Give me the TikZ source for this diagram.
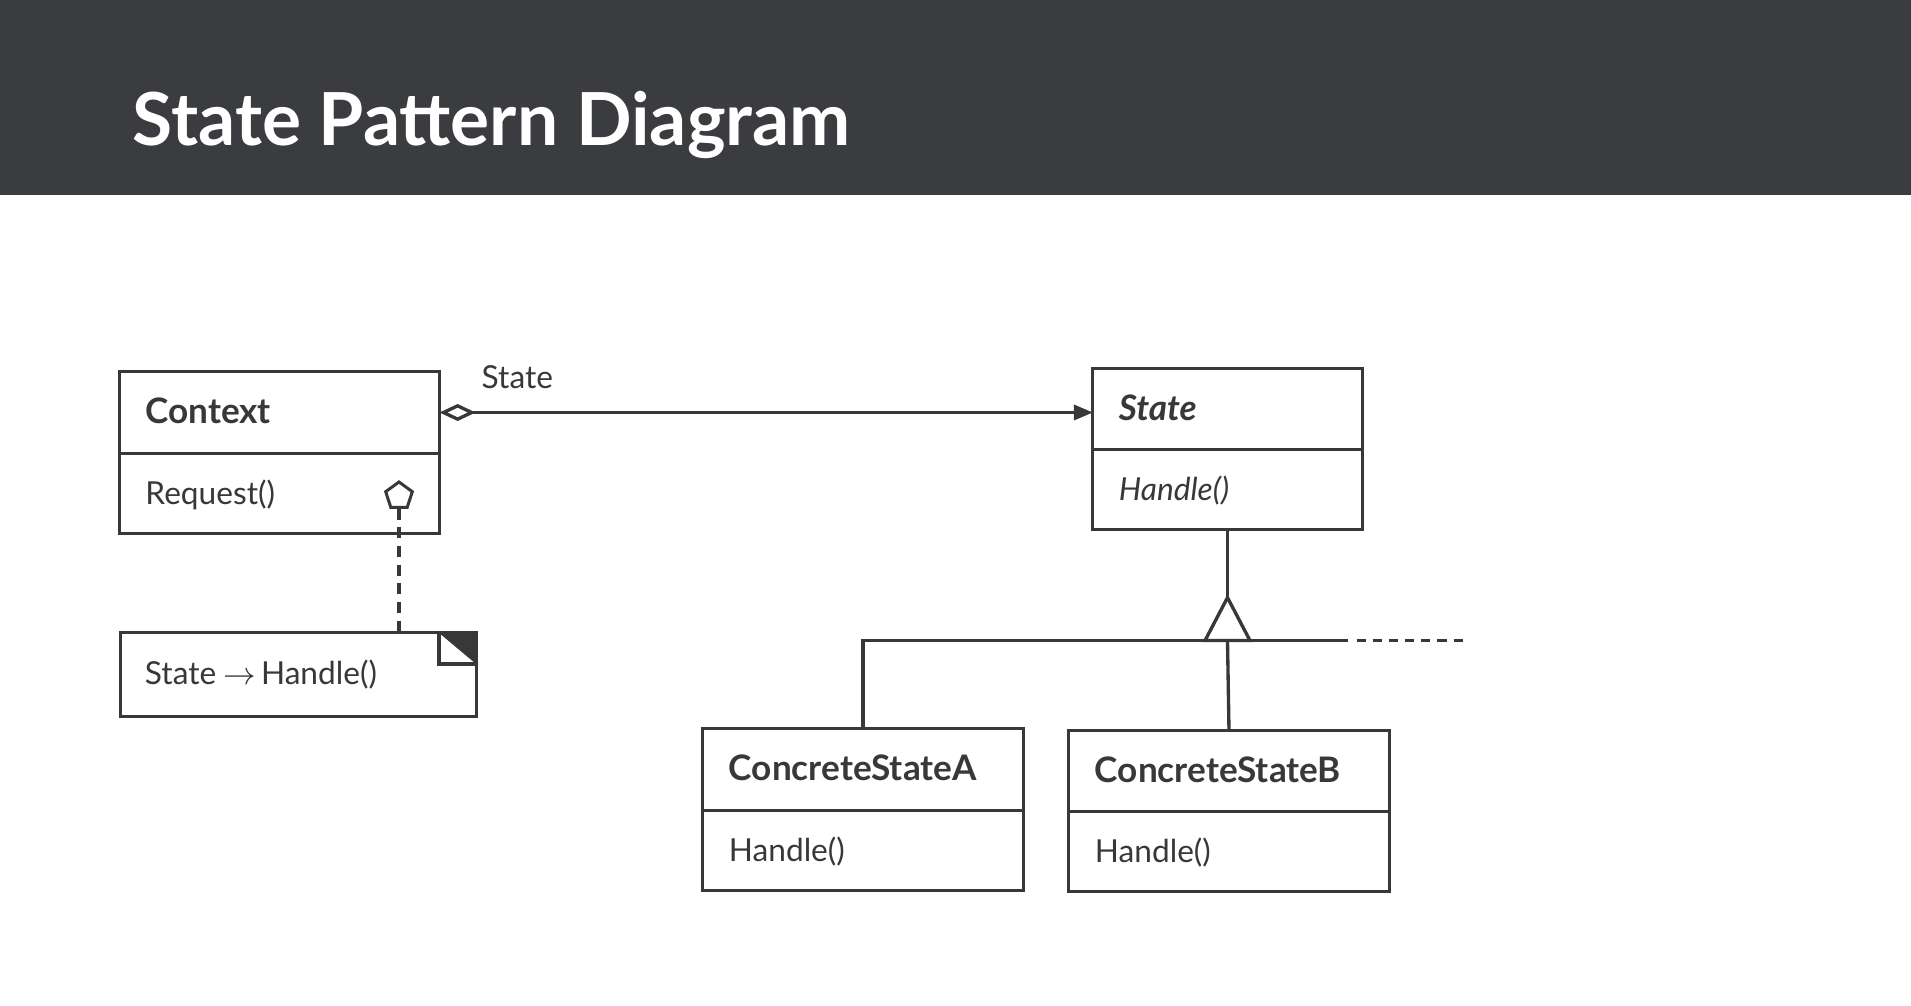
\documentclass[tikz,border=0pt]{standalone}
\usepackage{fontspec}
\setmainfont{Lato}
\usetikzlibrary{arrows.meta, positioning, shapes.geometric, calc}
\definecolor{ink}{HTML}{38383A}
\definecolor{banner}{HTML}{3B3C40}

\begin{document}
\begin{tikzpicture}[
    x=0.01cm, y=-0.01cm,
    classname/.style={draw=ink, line width=0.85pt, outer sep=0pt, minimum width=3.2cm,
                      minimum height=0.81cm, inner xsep=0.26cm, text width=2.68cm,
                      align=left, text height=2.2mm, text depth=0pt, text=ink,
                      font=\fontsize{10}{12}\selectfont\bfseries},
    classops/.style={classname, minimum height=0.80cm, font=\fontsize{9}{11}\selectfont},
    narrow/.style={minimum width=2.69cm, text width=2.17cm},
    memo/.style={draw=ink, line width=0.85pt, outer sep=0pt, minimum width=3.55cm,
                 minimum height=0.83cm, inner xsep=0.24cm, text width=3.07cm,
                 align=left, text height=2.0mm, text depth=0pt, text=ink,
                 font=\fontsize{9}{11}\selectfont},
    link/.style={draw=ink, line width=0.95pt},
    lbl/.style={text=ink, inner sep=0pt, font=\fontsize{9}{11}\selectfont}
  ]
  \useasboundingbox (0,0) rectangle (1911,1006);
  \fill[white] (0,0) rectangle (1911,1006);
  \fill[banner] (0,0) rectangle (1911,195);
  \node[anchor=base west, inner sep=0pt, text=white,
        font=\fontsize{20.8}{25}\selectfont\bfseries] (title) at (132,146) {State Pattern Diagram};

  % classes
  \node[classname] (ctx) at (279.5,412.5) {Context};
  \node[classops, below=0pt of ctx] (ctx-ops) {Request()};
  \node[classname, narrow] (state) at (1227.5,409) {\itshape State};
  \node[classops, narrow, below=0pt of state] (state-ops) {\itshape Handle()};
  \node[classname] (csa) at (863,769.5) {ConcreteStateA};
  \node[classops, below=0pt of csa] (csa-ops) {Handle()};
  \node[classname] (csb) at (1229,771) {ConcreteStateB};
  \node[classops, below=0pt of csb] (csb-ops) {Handle()};

  % note with folded corner
  \node[memo] (note) at (298.5,674.5) {State\hspace{2pt}$\rightarrow$\hspace{1.5pt}Handle()};
  \fill[ink] (note.north east) -- ++(-37,0) -- ++(37,31) -- cycle;
  \draw[link] ($(note.north east)+(-37,0)$) -- ++(0,31) -- ++(37,0);
  \node[draw=ink, line width=0.85pt, regular polygon, regular polygon sides=5,
        minimum size=0.28cm, inner sep=0pt] (pent) at (399,496) {};
  \draw[link, line width=1.3pt, dash pattern=on 3.1pt off 2.2pt] (pent.south) -- (pent.south |- note.north);

  % aggregation
  \draw[link, {Diamond[open, fill=white, length=3.6mm, width=1.7mm]}-{Triangle[length=1.9mm, width=1.5mm]}]
    (ctx.east) -- (ctx.east -| state.west);
  \node[lbl, anchor=base west] (role) at (481,388) {State};

  % inheritance
  \coordinate (apex) at ($(state-ops.south)+(0,68)$);
  \coordinate (hub) at ($(apex)+(0,43)$);
  \coordinate (barend) at ($(hub)+(120,0)$);
  \coordinate (more) at ($(barend)+(120,0)$);
  \draw[link] (state-ops.south) -- (apex);
  \draw[link, line join=miter] (apex) -- ++(-22.5,43) -- ++(45,0) -- cycle;
  \draw[link] (csa.north) |- (barend);
  \draw[link] (hub) -- (csb.north);
  \draw[link, dash pattern=on 2.6pt off 2pt] ($(barend)+(9,0)$) -- (more);
\end{tikzpicture}
\end{document}
